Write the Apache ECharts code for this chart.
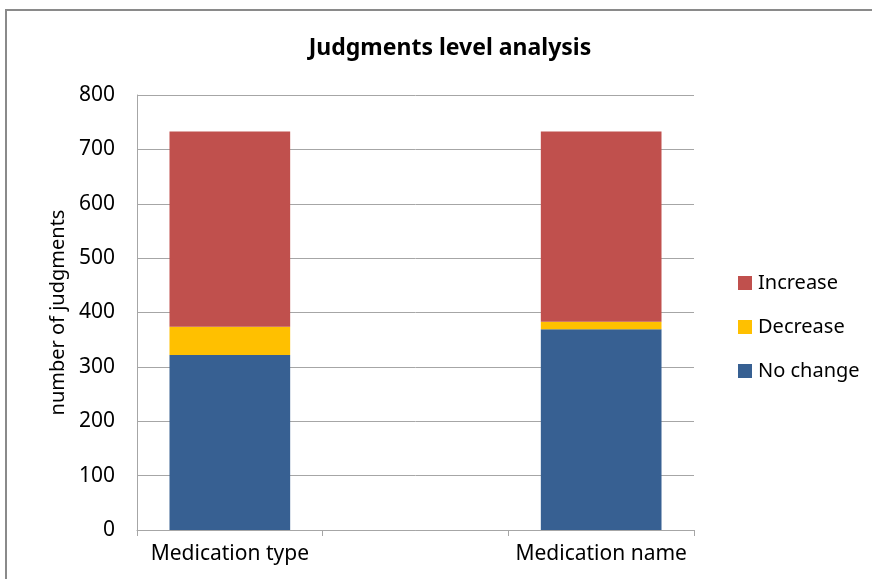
<!DOCTYPE html>
<html>
<head>
<meta charset="utf-8">
<script src="https://cdn.jsdelivr.net/npm/echarts@6/dist/echarts.min.js"></script>
<style>
  html, body { margin: 0; padding: 0; background: #fff; overflow: hidden; }
  #frame { position: absolute; left: 5px; top: 9px; width: 900px; height: 600px; border: 2px solid #8a8a8a; box-sizing: border-box; }
  #chart { position: absolute; left: 0; top: 0; width: 872px; height: 579px; }
</style>
</head>
<body>
<div id="frame"></div>
<div id="chart"></div>
<script>
// categories (middle slot is an empty spacer, as in the original)
const categories = ["Medication type", "", "Medication name"];
const noChange = [322, null, 369];
const decrease = [52, null, 14];
const increase = [359, null, 350];
const legendNames = ["Increase", "Decrease", "No change"];

const font = "'Noto Sans', sans-serif";
const mChart = echarts.init(document.getElementById("chart"));

const barBase = {
  type: "bar",
  stack: "total",
  barWidth: "65%",
};

mChart.setOption({
  animation: false,
  title: {
    text: "Judgments level analysis",
    left: 445,
    top: 32,
    textAlign: "center",
    textStyle: { fontFamily: font, fontSize: 23, fontWeight: "bold", color: "#000" },
  },
  legend: {
    orient: "vertical",
    left: 733,
    top: 268,
    itemWidth: 14,
    itemHeight: 14,
    itemGap: 24,
    icon: "rect",
    data: legendNames,
    textStyle: { fontFamily: font, fontSize: 20, color: "#000", padding: [0, 0, 0, 1] },
  },
  grid: { left: 137, right: 178, top: 95, bottom: 49 },
  xAxis: {
    type: "category",
    data: categories,
    axisLine: { lineStyle: { color: "#a6a6a6", width: 1 } },
    axisTick: { show: true, length: 6, lineStyle: { color: "#a6a6a6" } },
    axisLabel: { fontFamily: font, fontSize: 21, color: "#000", margin: 14, interval: 0 },
  },
  yAxis: {
    type: "value",
    min: 0,
    max: 800,
    interval: 100,
    name: "number of judgments",
    nameLocation: "middle",
    nameGap: 69,
    nameTextStyle: { fontFamily: font, fontSize: 20, color: "#000" },
    axisLine: { show: true, lineStyle: { color: "#a6a6a6" } },
    axisTick: { show: false },
    axisLabel: { fontFamily: font, fontSize: 21, color: "#000", margin: 22 },
    splitLine: { lineStyle: { color: "#a6a6a6", width: 1 } },
  },
  series: [
    { ...barBase, name: "No change", data: noChange, itemStyle: { color: "#376092" } },
    { ...barBase, name: "Decrease", data: decrease, itemStyle: { color: "#FFC000" } },
    { ...barBase, name: "Increase", data: increase, itemStyle: { color: "#C0504D" } },
  ],
});
</script>
</body>
</html>
